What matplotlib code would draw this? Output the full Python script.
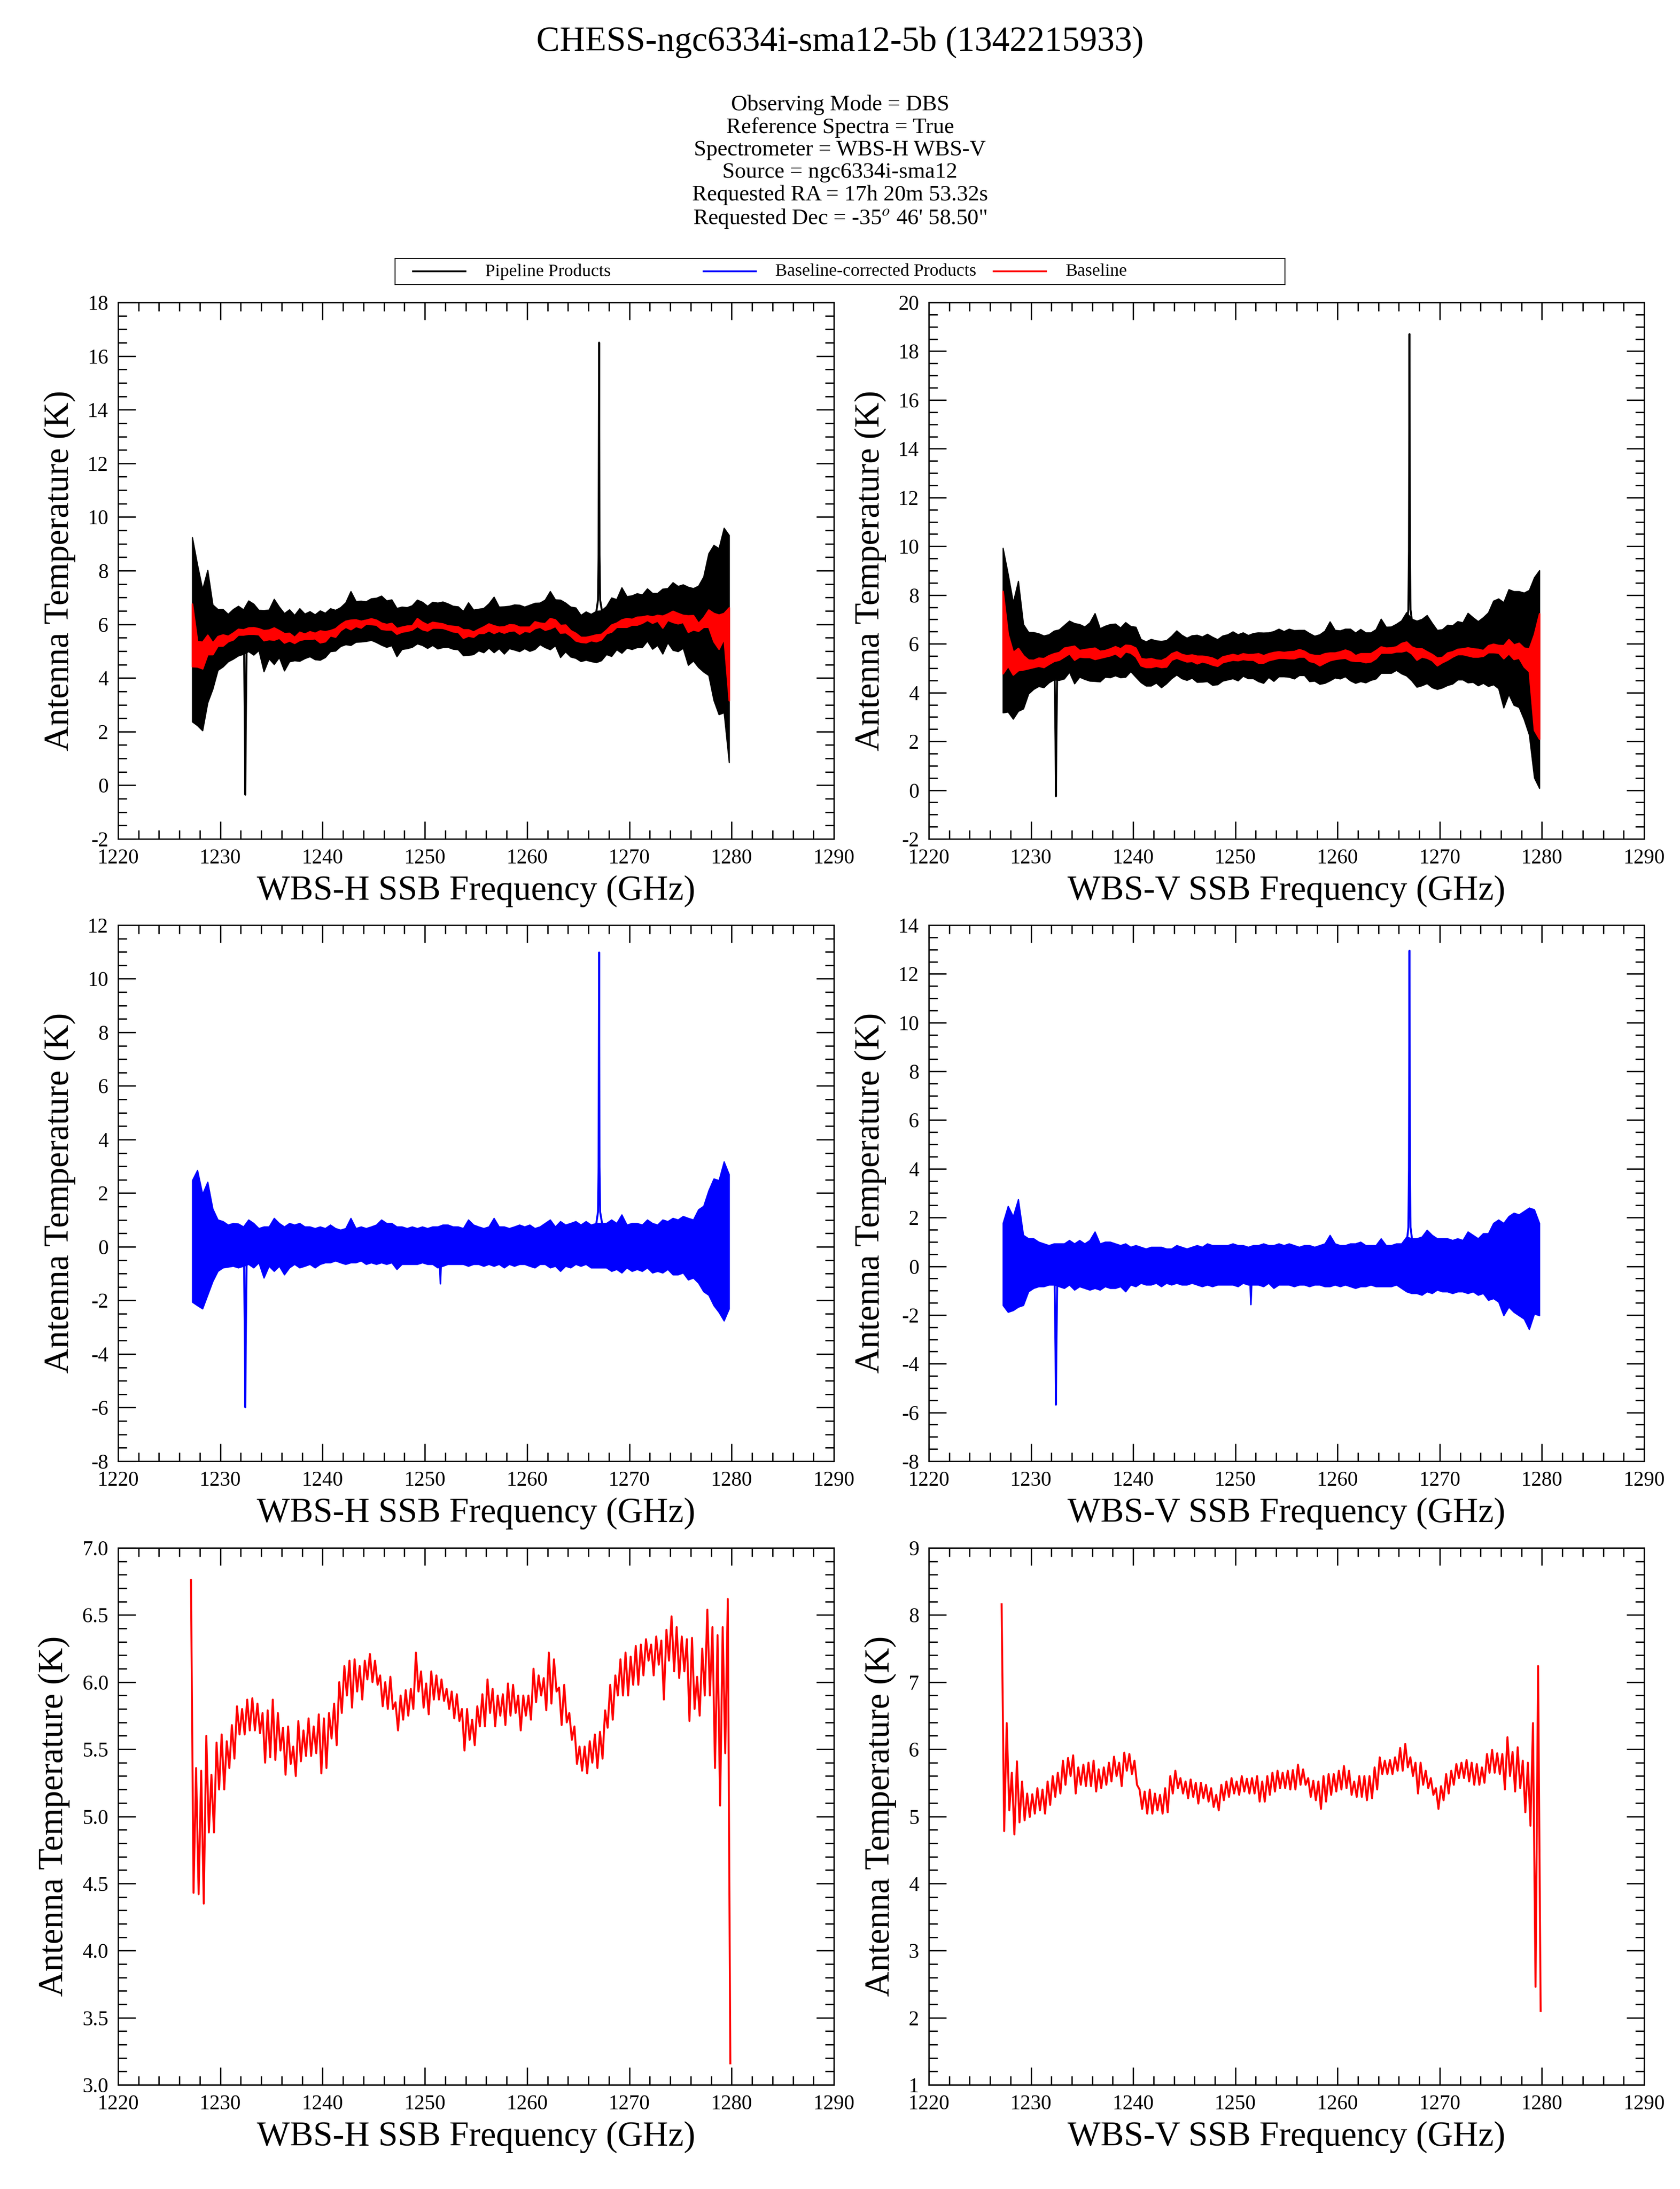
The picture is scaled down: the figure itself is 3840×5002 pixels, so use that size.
import numpy as np
import matplotlib
matplotlib.use('Agg')
import matplotlib.pyplot as plt
from matplotlib.ticker import MultipleLocator, FormatStrFormatter

plt.rcParams['font.family'] = ['Liberation Serif', 'DejaVu Serif']
plt.rcParams['mathtext.fontset'] = 'stix'

# ---------------- data ----------------
# centre of each 0.5 GHz bin
BIN_FREQ = np.arange(1227.25, 1280.0, 0.5)

# baseline (local max / min inside each bin)
H_BASE_HI = [6.76, 5.36, 5.34, 5.60, 5.31, 5.55, 5.61, 5.56, 5.68, 5.82,
             5.80, 5.87, 5.88, 5.84, 5.77, 5.79, 5.87, 5.77, 5.66, 5.67,
             5.52, 5.71, 5.64, 5.73, 5.67, 5.76, 5.73, 5.77, 5.84, 6.00,
             6.12, 6.16, 6.17, 6.12, 6.16, 6.21, 6.16, 6.05, 6.00, 6.04,
             5.85, 5.90, 5.94, 5.95, 6.22, 6.08, 5.99, 6.08, 6.05, 6.02,
             5.95, 5.93, 5.91, 5.80, 5.80, 5.72, 5.82, 5.91, 6.02, 5.95,
             5.90, 5.91, 5.99, 5.98, 5.90, 5.90, 5.90, 6.10, 6.05, 6.03,
             6.22, 6.17, 5.96, 5.98, 5.77, 5.67, 5.52, 5.52, 5.56, 5.61,
             5.63, 5.79, 5.98, 6.05, 6.17, 6.22, 6.19, 6.27, 6.28, 6.32,
             6.28, 6.34, 6.31, 6.39, 6.49, 6.41, 6.34, 6.32, 6.33, 6.04,
             6.25, 6.54, 6.41, 6.35, 6.41, 6.62]
H_BASE_LO = [4.43, 4.42, 4.35, 4.88, 4.88, 5.20, 5.20, 5.36, 5.43, 5.61,
             5.61, 5.64, 5.64, 5.62, 5.40, 5.44, 5.42, 5.49, 5.31, 5.39,
             5.30, 5.41, 5.45, 5.45, 5.47, 5.32, 5.36, 5.58, 5.53, 5.77,
             5.90, 5.81, 5.93, 5.87, 6.02, 6.00, 5.98, 5.82, 5.80, 5.80,
             5.64, 5.72, 5.75, 5.80, 5.93, 5.81, 5.76, 5.87, 5.87, 5.86,
             5.80, 5.73, 5.71, 5.49, 5.57, 5.53, 5.67, 5.67, 5.77, 5.67,
             5.75, 5.68, 5.75, 5.77, 5.64, 5.75, 5.72, 5.85, 5.90, 5.79,
             5.84, 5.93, 5.68, 5.70, 5.57, 5.39, 5.34, 5.32, 5.40, 5.36,
             5.43, 5.66, 5.72, 5.90, 5.90, 5.90, 5.98, 5.98, 6.05, 6.16,
             6.05, 6.13, 5.87, 6.16, 6.08, 6.03, 6.08, 5.71, 5.80, 5.75,
             5.90, 5.90, 5.36, 5.08, 5.47, 3.16]
V_BASE_HI = [8.16, 6.39, 5.65, 5.82, 5.52, 5.34, 5.33, 5.42, 5.40, 5.52,
             5.60, 5.65, 5.83, 5.87, 5.91, 5.73, 5.77, 5.80, 5.83, 5.70,
             5.73, 5.80, 5.89, 5.80, 5.95, 5.93, 5.83, 5.40, 5.37, 5.40,
             5.34, 5.32, 5.42, 5.60, 5.68, 5.57, 5.52, 5.55, 5.50, 5.50,
             5.47, 5.42, 5.32, 5.47, 5.52, 5.57, 5.52, 5.60, 5.56, 5.57,
             5.60, 5.52, 5.60, 5.65, 5.68, 5.65, 5.68, 5.69, 5.77, 5.70,
             5.57, 5.53, 5.52, 5.60, 5.63, 5.63, 5.68, 5.75, 5.68, 5.52,
             5.60, 5.60, 5.60, 5.73, 5.88, 5.83, 5.84, 5.88, 6.02, 6.08,
             5.88, 5.80, 5.80, 5.68, 5.57, 5.42, 5.45, 5.63, 5.68, 5.78,
             5.80, 5.84, 5.80, 5.78, 5.73, 5.93, 5.99, 5.94, 5.93, 6.18,
             5.96, 6.03, 5.83, 5.80, 6.39, 7.24]
V_BASE_LO = [4.78, 5.09, 4.73, 4.91, 4.94, 4.99, 5.04, 5.09, 5.04, 5.17,
             5.29, 5.34, 5.47, 5.60, 5.34, 5.47, 5.45, 5.45, 5.37, 5.42,
             5.47, 5.52, 5.60, 5.45, 5.68, 5.63, 5.47, 5.11, 5.04, 5.04,
             5.09, 5.04, 5.06, 5.34, 5.42, 5.34, 5.27, 5.29, 5.19, 5.27,
             5.22, 5.14, 5.09, 5.24, 5.29, 5.34, 5.32, 5.37, 5.34, 5.34,
             5.22, 5.22, 5.32, 5.37, 5.42, 5.42, 5.40, 5.40, 5.47, 5.47,
             5.29, 5.24, 5.11, 5.22, 5.32, 5.37, 5.40, 5.42, 5.32, 5.29,
             5.29, 5.24, 5.27, 5.40, 5.63, 5.63, 5.63, 5.68, 5.68, 5.73,
             5.60, 5.34, 5.47, 5.42, 5.32, 5.11, 5.24, 5.34, 5.47, 5.57,
             5.57, 5.52, 5.47, 5.47, 5.50, 5.65, 5.65, 5.63, 5.40, 5.60,
             5.37, 5.42, 5.06, 4.86, 2.46, 2.10]

# baseline-corrected products (local max / min inside each bin)
H_CORR_HI = [2.48, 2.86, 1.97, 2.42, 1.42, 1.01, 0.95, 0.82, 0.88, 0.86,
             0.75, 1.01, 0.88, 0.69, 0.75, 0.75, 1.07, 0.88, 0.75, 0.88,
             0.82, 0.88, 0.75, 0.75, 0.69, 0.75, 0.69, 0.82, 0.69, 0.63,
             0.69, 1.07, 0.69, 0.75, 0.69, 0.75, 0.82, 1.01, 0.88, 0.88,
             0.75, 0.75, 0.69, 0.75, 0.69, 0.75, 0.69, 0.75, 0.75, 0.82,
             0.82, 0.75, 0.75, 0.69, 1.01, 0.82, 0.75, 0.69, 0.75, 1.07,
             0.75, 0.75, 0.69, 0.75, 0.82, 0.75, 0.82, 0.69, 0.75, 0.88,
             1.01, 0.75, 0.95, 0.82, 0.88, 0.95, 0.82, 0.95, 0.82, 0.88,
             0.88, 0.88, 1.01, 0.88, 1.20, 0.82, 0.88, 0.88, 0.82, 1.01,
             0.88, 0.82, 1.01, 0.95, 1.07, 1.01, 1.14, 1.07, 1.01, 1.39,
             1.52, 2.10, 2.54, 2.48, 3.18, 2.70]
H_CORR_LO = [-2.06, -2.19, -2.31, -1.80, -1.29, -0.91, -0.78, -0.75, -0.72, -0.78,
             -0.72, -0.65, -0.78, -0.59, -1.16, -0.72, -0.91, -0.72, -1.04, -0.78,
             -0.65, -0.78, -0.72, -0.65, -0.78, -0.65, -0.59, -0.59, -0.52, -0.59,
             -0.65, -0.59, -0.59, -0.52, -0.65, -0.59, -0.65, -0.59, -0.65, -0.59,
             -0.84, -0.65, -0.65, -0.65, -0.65, -0.59, -0.65, -0.65, -0.78, -0.72,
             -0.65, -0.65, -0.65, -0.65, -0.72, -0.65, -0.65, -0.72, -0.65, -0.72,
             -0.65, -0.78, -0.65, -0.72, -0.65, -0.65, -0.72, -0.78, -0.65, -0.65,
             -0.78, -0.72, -0.91, -0.72, -0.78, -0.65, -0.72, -0.65, -0.78, -0.78,
             -0.78, -0.78, -0.91, -0.84, -0.97, -0.78, -0.91, -0.84, -0.91, -0.78,
             -0.97, -0.91, -0.97, -0.84, -1.04, -1.04, -0.97, -1.23, -1.16, -1.35,
             -1.67, -1.80, -2.19, -2.44, -2.76, -2.31]
V_CORR_HI = [1.77, 2.47, 2.05, 2.75, 1.28, 1.14, 1.14, 1.00, 0.93, 0.86,
             0.93, 0.93, 0.93, 1.07, 0.93, 1.07, 0.93, 1.07, 1.42, 0.93,
             1.00, 1.00, 0.93, 0.86, 0.93, 0.79, 0.86, 0.79, 0.72, 0.79,
             0.79, 0.79, 0.72, 0.72, 0.86, 0.79, 0.72, 0.79, 0.86, 0.79,
             0.93, 0.86, 0.86, 0.86, 0.86, 0.93, 0.86, 0.86, 0.79, 0.86,
             0.86, 0.93, 0.86, 0.86, 0.93, 0.86, 0.93, 0.86, 0.79, 0.86,
             0.86, 0.79, 0.86, 0.93, 1.28, 0.93, 0.86, 0.86, 0.93, 0.93,
             1.00, 0.86, 0.86, 0.86, 1.14, 0.86, 0.86, 0.93, 0.93, 1.21,
             1.14, 1.14, 1.21, 1.49, 1.28, 1.14, 1.14, 1.14, 1.07, 1.14,
             1.07, 1.42, 1.28, 1.14, 1.35, 1.35, 1.77, 1.91, 1.77, 2.05,
             2.19, 2.12, 2.26, 2.40, 2.33, 1.77]
V_CORR_LO = [-1.60, -1.88, -1.81, -1.67, -1.60, -1.04, -0.90, -0.83, -0.83, -0.76,
             -0.76, -0.83, -0.90, -0.76, -0.97, -0.83, -0.90, -0.97, -0.90, -0.97,
             -0.83, -0.90, -0.90, -0.83, -1.04, -0.76, -0.83, -0.69, -0.76, -0.76,
             -0.69, -0.83, -0.69, -0.76, -0.69, -0.76, -0.76, -0.69, -0.76, -0.83,
             -0.76, -0.83, -0.76, -0.76, -0.76, -0.76, -0.83, -0.69, -0.76, -0.76,
             -0.76, -0.83, -0.69, -0.90, -0.76, -0.76, -0.76, -0.83, -0.76, -0.76,
             -0.83, -0.76, -0.76, -0.83, -0.83, -0.76, -0.83, -0.76, -0.83, -0.90,
             -0.83, -0.83, -0.76, -0.83, -0.83, -0.83, -0.83, -0.76, -0.90, -1.04,
             -1.11, -1.11, -1.18, -1.04, -1.11, -0.97, -1.04, -1.04, -1.11, -1.04,
             -1.04, -1.11, -1.04, -1.18, -1.11, -1.39, -1.32, -1.46, -2.02, -1.67,
             -1.88, -2.02, -2.16, -2.59, -1.95, -2.02]

# narrow spectral features
EM_FREQ = [1266.78, 1266.93, 1266.99, 1267.04, 1267.08, 1267.14, 1267.32]
EM_H_CORR = [0.9, 1.3, 3.0, 10.98, 3.0, 1.3, 0.9]
EM_H_PIPE = [6.5, 6.9, 8.6, 16.5, 8.6, 6.9, 6.5]
EM_V_CORR = [1.0, 1.6, 4.0, 12.95, 4.0, 1.6, 1.0]
EM_V_PIPE = [6.8, 7.4, 9.8, 18.7, 9.8, 7.4, 6.8]
AB_FREQ = [1232.32, 1232.40, 1232.44, 1232.48, 1232.56]
AB_H_CORR = [-0.7, -3.7, -5.99, -3.7, -0.7]
AB_H_PIPE = [5.0, 2.0, -0.35, 2.0, 5.0]
AB_V_CORR = [-0.8, -3.5, -5.68, -3.5, -0.8]
AB_V_PIPE = [4.7, 2.0, -0.25, 2.0, 4.7]
DIP_FREQ = [1251.44, 1251.52, 1251.60]
DIP_H_CORR = [-0.6, -1.38, -0.6]
DIP_V_CORR = [-0.7, -1.57, -0.7]

TITLE = "CHESS-ngc6334i-sma12-5b (1342215933)"
INFO_LINES = ["Observing Mode = DBS",
              "Reference Spectra = True",
              "Spectrometer = WBS-H WBS-V",
              "Source = ngc6334i-sma12",
              "Requested RA = 17h 20m 53.32s",
              "Requested Dec = -35$^{o}$ 46' 58.50\""]
LEGEND_LABELS = ["Pipeline Products", "Baseline-corrected Products", "Baseline"]
LEGEND_COLORS = ["black", "blue", "red"]
XLABELS = ["WBS-H SSB Frequency (GHz)", "WBS-V SSB Frequency (GHz)"]
YLABEL = "Antenna Temperature (K)"

# ---------------- figure ----------------
W, H = 3840, 5002
fig = plt.figure(figsize=(W / 320, H / 320), dpi=320)

COLS = [(270, 1906), (2123, 3758)]
ROWS = [(691, 1917), (2114, 3339), (3537, 4764)]


def make_ax(r, c):
    x0, x1 = COLS[c]
    y0, y1 = ROWS[r]
    return fig.add_axes([x0 / W, 1 - y1 / H, (x1 - x0) / W, (y1 - y0) / H])


def style(ax, xlabel, ylim, ymaj, ymin, fmt):
    ax.set_xlim(1220, 1290)
    ax.set_ylim(*ylim)
    ax.xaxis.set_major_locator(MultipleLocator(10))
    ax.xaxis.set_minor_locator(MultipleLocator(2))
    ax.yaxis.set_major_locator(MultipleLocator(ymaj))
    ax.yaxis.set_minor_locator(MultipleLocator(ymin))
    ax.yaxis.set_major_formatter(FormatStrFormatter(fmt))
    ax.tick_params(which='both', direction='in', top=True, right=True,
                   width=0.7, labelsize=10.7, pad=5)
    ax.tick_params(which='major', length=9)
    ax.tick_params(which='minor', length=4.5)
    for s in ax.spines.values():
        s.set_linewidth(0.7)
    ax.set_xlabel(xlabel, fontsize=18, labelpad=4)
    ax.set_ylabel(YLABEL, fontsize=18, labelpad=6)


def zigzag(f, hi, lo):
    """Line alternating between each bin's maximum and minimum."""
    xs = np.column_stack([np.asarray(f) - 0.125, np.asarray(f) + 0.125]).ravel()
    ys = np.column_stack([hi, lo]).ravel()
    return xs, ys


specs = [
    dict(base_hi=H_BASE_HI, base_lo=H_BASE_LO, corr_hi=H_CORR_HI, corr_lo=H_CORR_LO,
         em_corr=EM_H_CORR, em_pipe=EM_H_PIPE, ab_corr=AB_H_CORR, ab_pipe=AB_H_PIPE,
         dip=DIP_H_CORR,
         lims=[((-2, 18), 2, 0.5, '%d'), ((-8, 12), 2, 0.5, '%d'), ((3.0, 7.0), 0.5, 0.1, '%.1f')]),
    dict(base_hi=V_BASE_HI, base_lo=V_BASE_LO, corr_hi=V_CORR_HI, corr_lo=V_CORR_LO,
         em_corr=EM_V_CORR, em_pipe=EM_V_PIPE, ab_corr=AB_V_CORR, ab_pipe=AB_V_PIPE,
         dip=DIP_V_CORR,
         lims=[((-2, 20), 2, 0.5, '%d'), ((-8, 14), 2, 0.5, '%d'), ((1, 9), 1, 0.2, '%d')]),
]

for c, sp in enumerate(specs):
    bhi = np.array(sp['base_hi'])
    blo = np.array(sp['base_lo'])
    chi = np.array(sp['corr_hi'])
    clo = np.array(sp['corr_lo'])

    # row 1: pipeline products (= baseline + corrected) and baseline
    ax = make_ax(0, c)
    ax.fill_between(BIN_FREQ, blo + clo, bhi + chi, color='black', lw=0.6, zorder=1)
    ax.plot(EM_FREQ, sp['em_pipe'], color='black', lw=1.0, zorder=1.5)
    ax.plot(AB_FREQ, sp['ab_pipe'], color='black', lw=1.0, zorder=1.5)
    ax.fill_between(BIN_FREQ, blo, bhi, color='red', lw=0.8, zorder=2)
    ylim, ymaj, ymin, fmt = sp['lims'][0]
    style(ax, XLABELS[c], ylim, ymaj, ymin, fmt)

    # row 2: baseline-corrected products
    ax = make_ax(1, c)
    ax.fill_between(BIN_FREQ, clo, chi, color='blue', lw=0.6, zorder=1)
    ax.plot(EM_FREQ, sp['em_corr'], color='blue', lw=1.0, zorder=1.5)
    ax.plot(AB_FREQ, sp['ab_corr'], color='blue', lw=1.0, zorder=1.5)
    ax.plot(DIP_FREQ, sp['dip'], color='blue', lw=0.8, zorder=1.5)
    ylim, ymaj, ymin, fmt = sp['lims'][1]
    style(ax, XLABELS[c], ylim, ymaj, ymin, fmt)

    # row 3: baseline
    ax = make_ax(2, c)
    zx, zy = zigzag(BIN_FREQ, bhi, blo)
    ax.plot(zx, zy, color='red', lw=1.0)
    ylim, ymaj, ymin, fmt = sp['lims'][2]
    style(ax, XLABELS[c], ylim, ymaj, ymin, fmt)

# titles
fig.text(0.5, 1 - 117 / H, TITLE, ha='center', va='baseline', fontsize=18)
INFO_BASELINES = [252, 304, 355, 406, 458, 512]
for line, yb in zip(INFO_LINES, INFO_BASELINES):
    fig.text(0.5, 1 - yb / H, line, ha='center', va='baseline', fontsize=11.5)

# legend box with three equal-width columns
LX0, LX1, LY0, LY1 = 903, 2937, 591, 650
lax = fig.add_axes([LX0 / W, 1 - LY1 / H, (LX1 - LX0) / W, (LY1 - LY0) / H])
lax.set_xlim(LX0, LX1)
lax.set_ylim(LY1, LY0)
lax.set_xticks([])
lax.set_yticks([])
for s in lax.spines.values():
    s.set_linewidth(0.5)
for i, (lab, col) in enumerate(zip(LEGEND_LABELS, LEGEND_COLORS)):
    xs = 944 + i * 663.5
    lax.plot([xs, xs + 120], [620, 620], color=col, lw=0.9)
    lax.text(xs + 165, 621, lab, ha='left', va='center', fontsize=9.2)

fig.savefig('out.png', dpi=320)
